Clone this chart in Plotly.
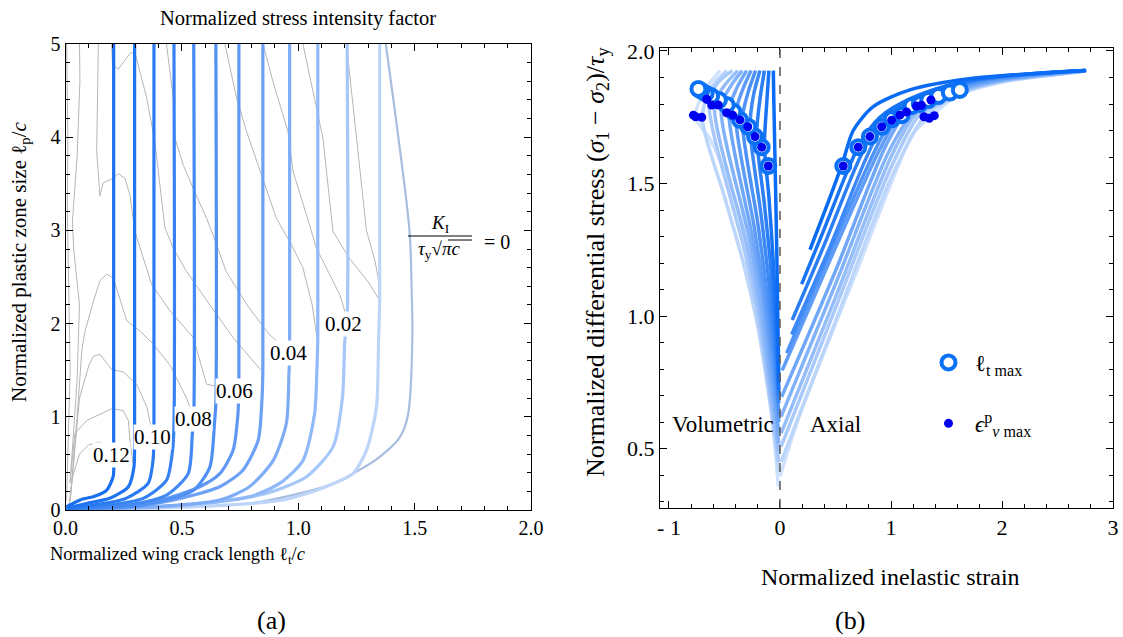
import plotly.graph_objects as go

W, H = 1123, 637
FONT = "Liberation Serif"

# ---------------- panel (a): K_I contours ----------------
# thick blue contours, K = 0.12 ... 0.01 (vertical part + lower bend to the origin)
blue_x = [
    [0.207, 0.207, 0.205, 0.177, 0.119, 0.07, 0.005],
    [0.297, 0.297, 0.294, 0.27, 0.19, 0.09, 0.005],
    [0.38, 0.38, 0.376, 0.355, 0.26, 0.12, 0.005],
    [0.466, 0.466, 0.46, 0.434, 0.334, 0.148, 0.005],
    [0.551, 0.551, 0.545, 0.527, 0.434, 0.263, 0.005],
    [0.646, 0.646, 0.64, 0.62, 0.549, 0.334, 0.005],
    [0.745, 0.745, 0.74, 0.72, 0.663, 0.577, 0.4, 0.2, 0.005],
    [0.848, 0.848, 0.844, 0.828, 0.763, 0.663, 0.45, 0.25, 0.005],
    [0.963, 0.963, 0.96, 0.949, 0.892, 0.79, 0.663, 0.35, 0.005],
    [1.084, 1.084, 1.08, 1.07, 1.02, 0.92, 0.79, 0.5, 0.005],
    [1.21, 1.21, 1.2, 1.19, 1.15, 1.035, 0.863, 0.55, 0.005],
    [1.35, 1.35, 1.345, 1.336, 1.293, 1.235, 1.12, 0.935, 0.6, 0.005],
]
blue_y = [
    [5.0, 0.6, 0.36, 0.214, 0.142, 0.115, 0.035],
    [5.0, 0.7, 0.46, 0.25, 0.125, 0.07, 0.02],
    [5.0, 0.8, 0.53, 0.285, 0.125, 0.053, 0.015],
    [5.0, 0.9, 0.64, 0.32, 0.125, 0.043, 0.012],
    [5.0, 1.0, 0.82, 0.39, 0.16, 0.053, 0.01],
    [5.0, 1.15, 0.93, 0.46, 0.21, 0.053, 0.01],
    [5.0, 1.3, 1.0, 0.64, 0.39, 0.25, 0.1, 0.03, 0.008],
    [5.0, 1.5, 1.18, 0.75, 0.43, 0.25, 0.1, 0.03, 0.006],
    [5.0, 1.68, 1.46, 0.93, 0.53, 0.25, 0.107, 0.03, 0.005],
    [5.0, 1.85, 1.5, 1.03, 0.53, 0.285, 0.142, 0.05, 0.004],
    [5.0, 2.05, 1.82, 1.21, 0.68, 0.356, 0.178, 0.06, 0.003],
    [5.0, 2.25, 1.82, 1.10, 0.64, 0.39, 0.25, 0.107, 0.04, 0.002],
]
blue_colors = ["#1a6ff0", "#1f74f2", "#2a7bf2", "#3682f2", "#4289f3", "#5090f3",
               "#5e98f4", "#6ca1f5", "#7eadf6", "#90b9f7", "#a6c7f8", "#bcd5f9"]

# K_I = 0 contour
zero_x = [1.376, 1.43, 1.478, 1.487, 1.49, 1.47, 1.436, 1.35, 1.264, 1.15, 1.006, 0.79, 0.4, 0.005]
zero_y = [5.0, 4.0, 2.99, 2.38, 1.82, 1.0, 0.78, 0.57, 0.43, 0.285, 0.178, 0.07, 0.02, 0.0]

# thin gray contours
gray_x = [
    [0.005, 0.01, 0.008, 0.012, 0.02, 0.01, 0.005],
    [0.06, 0.062, 0.05, 0.03, 0.035, 0.06, 0.05, 0.02],
    [0.02, 0.05, 0.07, 0.084, 0.12, 0.148, 0.177, 0.205, 0.227, 0.263, 0.32, 0.377, 0.45, 0.52, 0.55],
    [0.02, 0.06, 0.1, 0.12, 0.148, 0.198, 0.248, 0.306, 0.35, 0.375],
    [0.019, 0.04, 0.091, 0.148, 0.198, 0.248, 0.27, 0.277, 0.29],
    [0.015, 0.03, 0.06, 0.1, 0.148, 0.18, 0.2, 0.207],
    [0.141, 0.134, 0.148, 0.162, 0.205, 0.227, 0.255, 0.277, 0.298, 0.37, 0.448, 0.549, 0.606, 0.7],
    [0.198, 0.202, 0.227, 0.277, 0.298, 0.349, 0.384, 0.427, 0.463, 0.52, 0.62, 0.72, 0.84],
    [0.434, 0.463, 0.47, 0.506, 0.549, 0.606, 0.649, 0.69, 0.78, 0.87, 0.96],
    [0.685, 0.735, 0.778, 0.84, 0.906, 0.97, 1.02, 1.06, 1.08],
    [0.849, 0.892, 0.956, 0.978, 1.035, 1.078, 1.13, 1.18, 1.21],
    [1.02, 1.106, 1.149, 1.22, 1.3, 1.35],
    [1.207, 1.25, 1.293, 1.33, 1.35],
]
gray_y = [
    [5.0, 4.0, 3.2, 2.6, 1.5, 0.6, 0.1],
    [5.0, 4.6, 3.8, 3.1, 2.8, 2.2, 1.4, 0.3],
    [0.1, 1.0, 1.71, 1.92, 2.24, 2.46, 2.53, 2.49, 2.32, 2.03, 1.92, 1.78, 1.55, 1.2, 1.0],
    [0.1, 1.2, 1.55, 1.65, 1.67, 1.51, 1.48, 1.35, 1.1, 0.8],
    [0.285, 0.82, 0.96, 1.03, 1.086, 1.068, 0.96, 0.75, 0.5],
    [0.05, 0.35, 0.6, 0.7, 0.73, 0.68, 0.55, 0.4],
    [5.0, 3.85, 3.37, 3.51, 3.56, 3.61, 3.56, 3.38, 2.99, 2.42, 2.14, 1.85, 1.35, 1.3],
    [5.0, 4.77, 4.73, 4.9, 4.91, 4.42, 3.95, 3.03, 2.81, 2.56, 2.2, 1.85, 1.5],
    [5.0, 4.42, 3.99, 3.70, 3.45, 3.13, 2.85, 2.56, 2.2, 1.9, 1.68],
    [5.0, 4.42, 4.06, 3.6, 3.13, 2.85, 2.6, 2.2, 1.85],
    [5.0, 4.59, 4.06, 3.63, 3.17, 2.81, 2.55, 2.3, 2.05],
    [5.0, 3.99, 2.99, 2.7, 2.45, 2.25],
    [5.0, 4.0, 3.0, 2.67, 2.4],
]

label_text = ["0.12", "0.10", "0.08", "0.06", "0.04", "0.02"]
label_x = [0.198, 0.373, 0.549, 0.727, 0.959, 1.195]
label_y = [0.59, 0.785, 0.98, 1.28, 1.68, 2.0]

# ---------------- panel (b): stress vs inelastic strain ----------------
vol_x = [
    [-0.01, -0.02, -0.03, -0.045, -0.055, -0.06],
    [-0.01, -0.03, -0.06, -0.1, -0.14, -0.12, -0.1],
    [-0.01, -0.04, -0.08, -0.14, -0.21, -0.18, -0.14],
    [-0.01, -0.05, -0.1, -0.17, -0.27, -0.24, -0.18],
    [-0.01, -0.06, -0.12, -0.2, -0.34, -0.29, -0.22],
    [-0.01, -0.07, -0.14, -0.23, -0.4, -0.34, -0.26],
    [-0.01, -0.08, -0.15, -0.25, -0.46, -0.39, -0.30],
    [-0.01, -0.09, -0.17, -0.27, -0.53, -0.44, -0.34],
    [-0.01, -0.1, -0.18, -0.29, -0.59, -0.5, -0.38],
    [-0.01, -0.1, -0.19, -0.31, -0.64, -0.56, -0.43],
    [-0.01, -0.1, -0.2, -0.33, -0.5, -0.7, -0.62, -0.48],
    [-0.015, -0.09, -0.21, -0.33, -0.48, -0.62, -0.76, -0.68, -0.54],
]
vol_y = [
    [0.75, 1.0, 1.27, 1.59, 1.8, 1.926],
    [0.72, 0.95, 1.2, 1.45, 1.64, 1.8, 1.926],
    [0.7, 0.93, 1.17, 1.42, 1.68, 1.82, 1.926],
    [0.67, 0.9, 1.13, 1.38, 1.71, 1.83, 1.926],
    [0.63, 0.87, 1.1, 1.35, 1.74, 1.84, 1.926],
    [0.6, 0.84, 1.08, 1.33, 1.76, 1.85, 1.926],
    [0.56, 0.8, 1.05, 1.3, 1.77, 1.86, 1.926],
    [0.52, 0.77, 1.03, 1.28, 1.79, 1.87, 1.926],
    [0.49, 0.75, 1.0, 1.25, 1.8, 1.87, 1.926],
    [0.45, 0.72, 0.98, 1.23, 1.81, 1.88, 1.926],
    [0.41, 0.7, 0.96, 1.2, 1.45, 1.75, 1.86, 1.926],
    [0.356, 0.708, 1.086, 1.337, 1.526, 1.66, 1.752, 1.85, 1.926],
]
ax_x = [
    [0.27, 0.43, 0.565, 0.66, 0.84, 1.17, 1.7, 2.76],
    [0.195, 0.4, 0.6, 0.72, 0.9, 1.2, 1.7, 2.75],
    [0.11, 0.4, 0.68, 0.82, 1.0, 1.3, 1.8, 2.75],
    [0.105, 0.45, 0.77, 0.92, 1.1, 1.4, 1.85, 2.75],
    [0.06, 0.45, 0.85, 1.01, 1.2, 1.45, 1.9, 2.75],
    [0.02, 0.45, 0.9, 1.08, 1.25, 1.5, 1.95, 2.75],
    [0.015, 0.5, 0.95, 1.14, 1.3, 1.55, 2.0, 2.75],
    [0.01, 0.5, 0.98, 1.2, 1.35, 1.6, 2.0, 2.74],
    [0.01, 0.5, 1.0, 1.22, 1.4, 1.62, 2.0, 2.73],
    [0.01, 0.5, 1.0, 1.25, 1.45, 1.65, 2.0, 2.72],
    [0.01, 0.5, 1.0, 1.3, 1.5, 1.7, 2.05, 2.71],
    [0.0, 0.18, 0.72, 1.0, 1.2, 1.36, 1.62, 2.0, 2.7],
]
ax_y = [
    [1.25, 1.425, 1.58, 1.70, 1.79, 1.853, 1.895, 1.926],
    [1.12, 1.33, 1.54, 1.65, 1.75, 1.825, 1.89, 1.926],
    [0.985, 1.27, 1.56, 1.68, 1.77, 1.835, 1.893, 1.926],
    [0.93, 1.26, 1.59, 1.715, 1.785, 1.845, 1.895, 1.926],
    [0.86, 1.24, 1.62, 1.74, 1.8, 1.85, 1.895, 1.926],
    [0.795, 1.21, 1.63, 1.758, 1.805, 1.85, 1.893, 1.926],
    [0.695, 1.17, 1.64, 1.77, 1.81, 1.85, 1.893, 1.925],
    [0.62, 1.12, 1.62, 1.765, 1.8, 1.848, 1.89, 1.925],
    [0.557, 1.07, 1.6, 1.76, 1.8, 1.848, 1.888, 1.924],
    [0.507, 1.03, 1.56, 1.755, 1.805, 1.85, 1.887, 1.923],
    [0.45, 0.98, 1.52, 1.752, 1.81, 1.85, 1.887, 1.922],
    [0.394, 0.63, 1.2, 1.5, 1.69, 1.752, 1.84, 1.885, 1.922],
]
curve_colors = ["#0a6cf5", "#1874f5", "#2a7ef6", "#3b88f6", "#4c92f7", "#5e9cf7",
                "#70a7f8", "#82b2f9", "#95bdf9", "#a8c9fa", "#bbd5fb", "#cfe1fc"]

lt_x = [-0.105, -0.165, -0.225, -0.285, -0.36, -0.42, -0.48, -0.55, -0.62, -0.67, -0.71, -0.735,
        0.57, 0.705, 0.81, 0.916, 1.006, 1.096, 1.186, 1.26, 1.336, 1.426, 1.53, 1.62]
lt_y = [1.566, 1.637, 1.677, 1.714, 1.74, 1.771, 1.796, 1.815, 1.83, 1.84, 1.85, 1.857,
        1.566, 1.637, 1.677, 1.714, 1.742, 1.758, 1.792, 1.80, 1.815, 1.83, 1.843, 1.853]
ev_x = [-0.105, -0.165, -0.225, -0.29, -0.36, -0.426, -0.48, -0.555, -0.615, -0.66, -0.705, -0.76, -0.78,
        0.57, 0.705, 0.81, 0.916, 1.006, 1.08, 1.14, 1.23, 1.275, 1.36, 1.297, 1.345, 1.39]
ev_y = [1.566, 1.637, 1.677, 1.714, 1.74, 1.758, 1.767, 1.796, 1.796, 1.818, 1.75, 1.752, 1.758,
        1.566, 1.637, 1.677, 1.714, 1.739, 1.758, 1.77, 1.792, 1.795, 1.815, 1.752, 1.746, 1.756]


# screen pixel -> paper fraction
def px(x):
    return x / W


def py(y):
    return 1 - y / H


fig = go.Figure()

for gx, gy in zip(gray_x, gray_y):
    fig.add_trace(go.Scatter(x=gx, y=gy, mode="lines", line=dict(color="#b5b5b5", width=1),
                             showlegend=False, hoverinfo="skip", xaxis="x", yaxis="y"))

fig.add_trace(go.Scatter(x=zero_x, y=zero_y, mode="lines", line=dict(color="#a9bde0", width=2.2, shape="spline"),
                         showlegend=False, hoverinfo="skip", xaxis="x", yaxis="y"))

for i in range(len(blue_x) - 1, -1, -1):
    fig.add_trace(go.Scatter(x=blue_x[i], y=blue_y[i], mode="lines",
                             line=dict(color=blue_colors[i], width=3.2, shape="spline", smoothing=0.7),
                             showlegend=False, hoverinfo="skip", xaxis="x", yaxis="y"))

for i in range(len(vol_x) - 1, -1, -1):
    fig.add_trace(go.Scatter(x=vol_x[i], y=vol_y[i], mode="lines",
                             line=dict(color=curve_colors[i], width=3.5, shape="spline", smoothing=0.8),
                             showlegend=False, hoverinfo="skip", xaxis="x2", yaxis="y2"))
for i in range(len(ax_x) - 1, -1, -1):
    fig.add_trace(go.Scatter(x=ax_x[i], y=ax_y[i], mode="lines",
                             line=dict(color=curve_colors[i], width=3.5, shape="spline", smoothing=0.8),
                             showlegend=False, hoverinfo="skip", xaxis="x2", yaxis="y2"))

fig.add_trace(go.Scatter(x=lt_x, y=lt_y, mode="markers", name="ℓ<sub>t max</sub>", legendgroup="a",
                         marker=dict(size=14, color="white", line=dict(color="#0a70f5", width=4)),
                         xaxis="x2", yaxis="y2", hoverinfo="skip"))
fig.add_trace(go.Scatter(x=ev_x, y=ev_y, mode="markers", name="<i>ϵ</i><sup>p</sup><sub><i>v</i> max</sub>",
                         legendgroup="b", marker=dict(size=9, color="#0000f0"),
                         xaxis="x2", yaxis="y2", hoverinfo="skip"))

common = dict(ticks="inside", mirror="allticks", showline=True, linecolor="black", linewidth=1,
              tickcolor="black", ticklen=7, showgrid=False, zeroline=False, automargin=False,
              ticklabeloverflow="allow")

annotations = []
for t, x, y in zip(label_text, label_x, label_y):
    annotations.append(dict(x=x, y=y, xref="x", yref="y", text=t, showarrow=False, bgcolor="white",
                            borderpad=0, xanchor="center", yanchor="middle",
                            font=dict(family=FONT, size=21, color="black")))


def note(text, x, y, size=20, angle=0):
    annotations.append(dict(x=px(x), y=py(y), xref="paper", yref="paper", text=text, showarrow=False,
                            xanchor="center", yanchor="middle", textangle=angle,
                            font=dict(family=FONT, size=size, color="black")))


note("Normalized stress intensity factor", 298, 19, 20.5)
note("Normalized plastic zone size ℓ<sub>p</sub>/<i>c</i>", 20, 262, 21, -90)
note("Normalized wing crack length ℓ<sub>t</sub>/<i>c</i>", 178, 555, 18.5)
note("(a)", 271, 620, 26)
note("Normalized differential stress (<i>σ</i><sub>1</sub> − <i>σ</i><sub>2</sub>)/<i>τ</i><sub>y</sub>",
     597, 262, 26, -90)
note("Normalized inelastic strain", 890, 577, 24)
note("(b)", 850, 620, 26)
note("Volumetric", 723, 424, 23)
note("Axial", 835, 424, 23)
note("<i>K</i><sub>I</sub>", 440, 224, 19)
note("<i>τ</i><sub>y</sub>√<i>πc</i>", 439, 250, 19)
note("= 0", 497, 242, 20)

shapes = [
    dict(type="line", xref="x2", yref="y2 domain", x0=0, x1=0, y0=0, y1=1,
         line=dict(color="#555555", width=1.5, dash="dash")),
    dict(type="line", xref="paper", yref="paper", x0=px(408), x1=px(472), y0=py(236), y1=py(236),
         line=dict(color="black", width=1)),
    dict(type="line", xref="paper", yref="paper", x0=px(448), x1=px(472), y0=py(240), y1=py(240),
         line=dict(color="black", width=1)),
]

left_font = dict(family=FONT, size=20, color="black")
right_font = dict(family=FONT, size=22, color="black")

fig.update_layout(
    width=W, height=H,
    margin=dict(l=0, r=0, t=0, b=0),
    paper_bgcolor="white", plot_bgcolor="white",
    font=dict(family=FONT, size=18, color="black"),
    xaxis=dict(domain=[px(65.5), px(531)], range=[0, 2.0], anchor="y", tick0=0, dtick=0.5, tickformat=".1f",
               tickfont=left_font,
               minor=dict(ticks="inside", tick0=0, dtick=0.1, ticklen=4, tickcolor="black"), **common),
    yaxis=dict(domain=[py(510), py(44)], range=[0, 5], anchor="x", tick0=0, dtick=1, tickfont=left_font,
               minor=dict(ticks="inside", tick0=0, dtick=0.2, ticklen=4, tickcolor="black"), **common),
    xaxis2=dict(domain=[px(660), px(1113)], range=[-1.081, 3.0], anchor="y2", tickfont=right_font,
                tickmode="array", tickvals=[-1, 0, 1, 2, 3], ticktext=["- 1", "0", "1", "2", "3"],
                minor=dict(ticks="inside", tickmode="linear", tick0=0, dtick=0.2, ticklen=4, tickcolor="black"),
                **common),
    yaxis2=dict(domain=[py(508), py(48)], range=[0.2755, 2.0113], anchor="x2", tick0=0, dtick=0.5,
                tickformat=".1f", tickfont=right_font,
                minor=dict(ticks="inside", tick0=0, dtick=0.1, ticklen=4, tickcolor="black"), **common),
    showlegend=True,
    legend=dict(x=px(922), y=py(341), xanchor="left", yanchor="top", bgcolor="rgba(0,0,0,0)",
                font=dict(family=FONT, size=23), tracegroupgap=28, itemsizing="trace", itemwidth=43),
    annotations=annotations,
    shapes=shapes,
)

# drop the default 8 px page margin so the 1123x637 figure fills the window exactly
fig.write_html("out.html", config={"displayModeBar": False},
               post_script="document.body.style.margin='0';document.body.style.overflow='hidden';")
